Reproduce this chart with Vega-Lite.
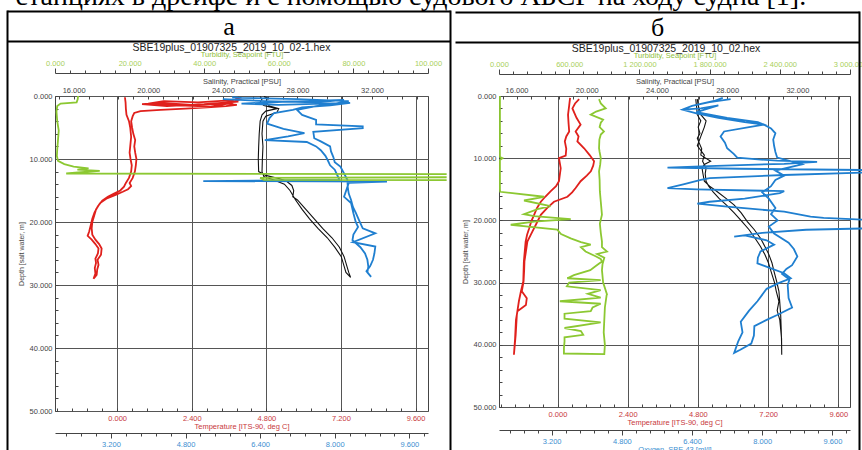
{
  "$schema": "https://vega.github.io/schema/vega-lite/v6.json",
  "autosize": {"type": "pad"},
  "padding": {"left": 6, "top": -18, "right": 0, "bottom": 0},
  "background": "white",
  "spacing": -46,
  "title": {"text": "станциях в дрейфе и с помощью судового АБСР на ходу судна [1].", "font": "Liberation Serif", "fontSize": 28, "fontWeight": "normal", "anchor": "start", "dx": 9, "offset": -22, "baseline": "alphabetic", "color": "#000"},
  "config": {
    "view": {"stroke": "#444", "strokeWidth": 1},
    "axis": {"labelFont": "Liberation Sans", "titleFont": "Liberation Sans", "labelFontSize": 7.5, "titleFontSize": 7.5, "titleFontWeight": "normal", "tickColor": "#444", "domainColor": "#444", "gridColor": "#555", "gridWidth": 1, "labelOverlap": false, "labelFlush": false}
  },
  "datasets": {
    "frame": [{"f": 0.5}],
    "a": [
      {"v":"T","c":1,"d":0.2,"x":0.25},{"v":"T","c":1,"d":1.0,"x":0.27},{"v":"T","c":1,"d":2.0,"x":0.28},{"v":"T","c":1,"d":3.0,"x":0.30},{"v":"T","c":1,"d":4.0,"x":0.38},{"v":"T","c":1,"d":5.0,"x":0.42},{"v":"T","c":1,"d":6.5,"x":0.45},{"v":"T","c":1,"d":8.0,"x":0.42},{"v":"T","c":1,"d":9.0,"x":0.40},{"v":"T","c":1,"d":10.0,"x":0.43},{"v":"T","c":1,"d":11.0,"x":0.47},{"v":"T","c":1,"d":12.0,"x":0.45},{"v":"T","c":1,"d":13.0,"x":0.38},{"v":"T","c":1,"d":13.8,"x":0.28},{"v":"T","c":1,"d":14.4,"x":0.22},{"v":"T","c":1,"d":15.0,"x":0.10},{"v":"T","c":1,"d":15.5,"x":-0.10},{"v":"T","c":1,"d":16.0,"x":-0.30},{"v":"T","c":1,"d":16.6,"x":-0.48},{"v":"T","c":1,"d":17.5,"x":-0.62},{"v":"T","c":1,"d":18.5,"x":-0.73},{"v":"T","c":1,"d":19.5,"x":-0.80},{"v":"T","c":1,"d":20.5,"x":-0.85},{"v":"T","c":1,"d":21.5,"x":-0.90},{"v":"T","c":1,"d":22.2,"x":-0.95},{"v":"T","c":1,"d":22.8,"x":-0.82},{"v":"T","c":1,"d":23.5,"x":-0.70},{"v":"T","c":1,"d":24.2,"x":-0.60},{"v":"T","c":1,"d":25.0,"x":-0.62},{"v":"T","c":1,"d":25.8,"x":-0.70},{"v":"T","c":1,"d":26.5,"x":-0.68},{"v":"T","c":1,"d":27.3,"x":-0.72},{"v":"T","c":1,"d":28.2,"x":-0.70},{"v":"T","c":1,"d":29.0,"x":-0.76},
      {"v":"T","c":1,"d":28.4,"x":-0.66},{"v":"T","c":1,"d":27.5,"x":-0.64},{"v":"T","c":1,"d":26.8,"x":-0.60},{"v":"T","c":1,"d":26.0,"x":-0.63},{"v":"T","c":1,"d":25.2,"x":-0.52},{"v":"T","c":1,"d":24.2,"x":-0.50},{"v":"T","c":1,"d":23.5,"x":-0.58},{"v":"T","c":1,"d":22.8,"x":-0.70},{"v":"T","c":1,"d":22.0,"x":-0.80},{"v":"T","c":1,"d":21.0,"x":-0.82},{"v":"T","c":1,"d":20.0,"x":-0.80},{"v":"T","c":1,"d":19.0,"x":-0.74},{"v":"T","c":1,"d":18.0,"x":-0.68},{"v":"T","c":1,"d":17.0,"x":-0.55},{"v":"T","c":1,"d":16.3,"x":-0.35},{"v":"T","c":1,"d":15.7,"x":-0.05},{"v":"T","c":1,"d":15.2,"x":0.18},{"v":"T","c":1,"d":14.8,"x":0.35},{"v":"T","c":1,"d":14.3,"x":0.45},{"v":"T","c":1,"d":13.8,"x":0.40},{"v":"T","c":1,"d":13.0,"x":0.50},{"v":"T","c":1,"d":12.0,"x":0.57},{"v":"T","c":1,"d":11.0,"x":0.60},{"v":"T","c":1,"d":10.0,"x":0.62},{"v":"T","c":1,"d":9.0,"x":0.58},{"v":"T","c":1,"d":8.0,"x":0.55},{"v":"T","c":1,"d":7.0,"x":0.58},{"v":"T","c":1,"d":6.0,"x":0.52},{"v":"T","c":1,"d":5.0,"x":0.48},{"v":"T","c":1,"d":4.0,"x":0.45},{"v":"T","c":1,"d":3.2,"x":0.50},{"v":"T","c":1,"d":2.7,"x":0.55},{"v":"T","c":1,"d":2.4,"x":0.75},{"v":"T","c":1,"d":2.2,"x":1.40},{"v":"T","c":1,"d":2.0,"x":2.20},{"v":"T","c":1,"d":1.8,"x":2.90},{"v":"T","c":1,"d":1.6,"x":3.50},{"v":"T","c":1,"d":1.4,"x":3.85},{"v":"T","c":1,"d":1.2,"x":3.50},{"v":"T","c":1,"d":1.4,"x":2.40},{"v":"T","c":1,"d":1.1,"x":1.40},{"v":"T","c":1,"d":1.3,"x":0.80},{"v":"T","c":1,"d":1.6,"x":1.60},{"v":"T","c":1,"d":1.3,"x":2.80},{"v":"T","c":1,"d":0.9,"x":3.90},{"v":"T","c":1,"d":0.7,"x":3.60},{"v":"T","c":1,"d":1.0,"x":2.60},{"v":"T","c":1,"d":0.8,"x":1.50},{"v":"T","c":1,"d":1.2,"x":1.00},{"v":"T","c":1,"d":1.5,"x":2.00},{"v":"T","c":1,"d":1.7,"x":3.00},{"v":"T","c":1,"d":1.1,"x":3.70},{"v":"T","c":1,"d":0.5,"x":3.95},{"v":"T","c":1,"d":0.3,"x":3.80},
      {"v":"S","c":1,"d":0.1,"x":26.0},{"v":"S","c":1,"d":0.5,"x":26.1},{"v":"S","c":1,"d":1.0,"x":26.0},{"v":"S","c":1,"d":1.5,"x":26.2},{"v":"S","c":1,"d":2.0,"x":26.9},{"v":"S","c":1,"d":2.4,"x":26.3},{"v":"S","c":1,"d":3.0,"x":26.1},{"v":"S","c":1,"d":4,"x":26.0},{"v":"S","c":1,"d":6,"x":25.95},{"v":"S","c":1,"d":8,"x":25.92},{"v":"S","c":1,"d":10,"x":25.9},{"v":"S","c":1,"d":12,"x":25.92},{"v":"S","c":1,"d":12.6,"x":26.3},{"v":"S","c":1,"d":13.1,"x":27.0},{"v":"S","c":1,"d":13.5,"x":27.4},{"v":"S","c":1,"d":14.2,"x":27.7},{"v":"S","c":1,"d":15.0,"x":27.8},{"v":"S","c":1,"d":16.0,"x":27.75},{"v":"S","c":1,"d":16.5,"x":28.0},{"v":"S","c":1,"d":18.0,"x":28.45},{"v":"S","c":1,"d":19.5,"x":28.9},{"v":"S","c":1,"d":21.0,"x":29.35},{"v":"S","c":1,"d":22.5,"x":29.85},{"v":"S","c":1,"d":24.0,"x":30.25},{"v":"S","c":1,"d":25.5,"x":30.5},{"v":"S","c":1,"d":27.0,"x":30.65},{"v":"S","c":1,"d":28.0,"x":30.75},{"v":"S","c":1,"d":28.8,"x":30.85},
      {"v":"S","c":1,"d":28.0,"x":30.6},{"v":"S","c":1,"d":27.0,"x":30.5},{"v":"S","c":1,"d":25.5,"x":30.35},{"v":"S","c":1,"d":24.0,"x":30.0},{"v":"S","c":1,"d":22.5,"x":29.6},{"v":"S","c":1,"d":21.0,"x":29.1},{"v":"S","c":1,"d":19.5,"x":28.65},{"v":"S","c":1,"d":18.0,"x":28.25},{"v":"S","c":1,"d":16.5,"x":27.9},{"v":"S","c":1,"d":15.0,"x":27.6},{"v":"S","c":1,"d":14.0,"x":27.3},{"v":"S","c":1,"d":13.3,"x":26.7},{"v":"S","c":1,"d":12.8,"x":26.2},{"v":"S","c":1,"d":12.0,"x":26.1},{"v":"S","c":1,"d":10,"x":26.12},{"v":"S","c":1,"d":8,"x":26.15},{"v":"S","c":1,"d":6,"x":26.1},{"v":"S","c":1,"d":4,"x":26.15},{"v":"S","c":1,"d":3.2,"x":26.3},{"v":"S","c":1,"d":2.6,"x":26.9},{"v":"S","c":1,"d":2.0,"x":27.0},{"v":"S","c":1,"d":1.6,"x":26.5},{"v":"S","c":1,"d":1.0,"x":26.3},{"v":"S","c":1,"d":0.3,"x":26.4},{"v":"S","c":1,"d":0.1,"x":26.2},
      {"v":"O","c":1,"d":0.5,"x":5.6},{"v":"O","c":1,"d":0.8,"x":6.5},{"v":"O","c":1,"d":1.0,"x":7.6},{"v":"O","c":1,"d":0.6,"x":8.2},{"v":"O","c":1,"d":0.9,"x":7.0},{"v":"O","c":1,"d":1.2,"x":6.0},{"v":"O","c":1,"d":1.4,"x":6.8},{"v":"O","c":1,"d":1.1,"x":8.33},{"v":"O","c":1,"d":1.5,"x":7.9},{"v":"O","c":1,"d":1.8,"x":7.3},{"v":"O","c":1,"d":2.2,"x":7.1},{"v":"O","c":1,"d":2.7,"x":6.7},{"v":"O","c":1,"d":3.5,"x":6.6},{"v":"O","c":1,"d":4.4,"x":6.55},{"v":"O","c":1,"d":5.2,"x":6.9},{"v":"O","c":1,"d":5.9,"x":7.35},{"v":"O","c":1,"d":6.4,"x":7.0},{"v":"O","c":1,"d":7.0,"x":6.5},{"v":"O","c":1,"d":7.3,"x":7.4},{"v":"O","c":1,"d":8.0,"x":7.6},{"v":"O","c":1,"d":8.6,"x":7.7},{"v":"O","c":1,"d":9.5,"x":7.8},{"v":"O","c":1,"d":10.2,"x":7.85},{"v":"O","c":1,"d":11.0,"x":7.9},{"v":"O","c":1,"d":11.7,"x":8.0},{"v":"O","c":1,"d":12.5,"x":8.05},{"v":"O","c":1,"d":13.3,"x":8.1},{"v":"O","c":1,"d":13.5,"x":5.18},{"v":"O","c":1,"d":13.6,"x":9.12},{"v":"O","c":1,"d":13.8,"x":8.3},{"v":"O","c":1,"d":14.9,"x":8.25},{"v":"O","c":1,"d":16.0,"x":8.2},{"v":"O","c":1,"d":17.0,"x":8.35},{"v":"O","c":1,"d":18.6,"x":8.4},{"v":"O","c":1,"d":20.0,"x":8.45},{"v":"O","c":1,"d":20.8,"x":8.5},{"v":"O","c":1,"d":22.0,"x":8.4},{"v":"O","c":1,"d":22.9,"x":8.38},{"v":"O","c":1,"d":24.0,"x":8.55},{"v":"O","c":1,"d":25.0,"x":8.65},{"v":"O","c":1,"d":26.0,"x":8.7},{"v":"O","c":1,"d":27.1,"x":8.72},{"v":"O","c":1,"d":28.0,"x":8.7},{"v":"O","c":1,"d":28.7,"x":8.78},
      {"v":"O","c":1,"d":27.8,"x":8.68},{"v":"O","c":1,"d":27.0,"x":8.76},{"v":"O","c":1,"d":26.0,"x":8.82},{"v":"O","c":1,"d":25.0,"x":8.85},{"v":"O","c":1,"d":23.9,"x":8.87},{"v":"O","c":1,"d":23.2,"x":8.39},{"v":"O","c":1,"d":21.8,"x":8.87},{"v":"O","c":1,"d":21.0,"x":8.6},{"v":"O","c":1,"d":19.7,"x":8.52},{"v":"O","c":1,"d":18.5,"x":8.45},{"v":"O","c":1,"d":17.6,"x":8.39},{"v":"O","c":1,"d":16.5,"x":8.35},{"v":"O","c":1,"d":15.5,"x":8.3},{"v":"O","c":1,"d":14.5,"x":8.28},{"v":"O","c":1,"d":13.3,"x":8.27},{"v":"O","c":1,"d":12.3,"x":8.2},{"v":"O","c":1,"d":11.2,"x":8.12},{"v":"O","c":1,"d":10.5,"x":8.0},{"v":"O","c":1,"d":9.7,"x":7.97},{"v":"O","c":1,"d":8.8,"x":7.92},{"v":"O","c":1,"d":8.0,"x":7.9},{"v":"O","c":1,"d":7.2,"x":7.7},{"v":"O","c":1,"d":6.7,"x":7.56},{"v":"O","c":1,"d":5.7,"x":7.54},{"v":"O","c":1,"d":5.1,"x":8.6},{"v":"O","c":1,"d":4.8,"x":8.6},{"v":"O","c":1,"d":4.5,"x":7.6},{"v":"O","c":1,"d":3.8,"x":7.6},{"v":"O","c":1,"d":3.0,"x":7.3},{"v":"O","c":1,"d":2.2,"x":7.19},{"v":"O","c":1,"d":1.6,"x":7.6},{"v":"O","c":1,"d":1.2,"x":8.0},{"v":"O","c":1,"d":0.8,"x":8.3},{"v":"O","c":1,"d":0.5,"x":7.2},{"v":"O","c":1,"d":0.3,"x":6.0},{"v":"O","c":1,"d":0.2,"x":5.8},
      {"v":"U","c":1,"d":0,"x":6.2},{"v":"U","c":1,"d":0.5,"x":6.1},{"v":"U","c":1,"d":1.0,"x":5.8},{"v":"U","c":1,"d":1.2,"x":1.5},{"v":"U","c":1,"d":1.6,"x":0.6},{"v":"U","c":1,"d":2.5,"x":0.4},{"v":"U","c":1,"d":4,"x":0.6},{"v":"U","c":1,"d":5.5,"x":1.0},{"v":"U","c":1,"d":7,"x":0.8},{"v":"U","c":1,"d":8.5,"x":0.6},{"v":"U","c":1,"d":9.5,"x":0.5},{"v":"U","c":1,"d":10.3,"x":0.8},{"v":"U","c":1,"d":10.8,"x":2.5},{"v":"U","c":1,"d":11.2,"x":5},{"v":"U","c":1,"d":11.5,"x":9},{"v":"U","c":1,"d":11.7,"x":6},{"v":"U","c":1,"d":11.9,"x":12},{"v":"U","c":1,"d":12.1,"x":7},{"v":"U","c":1,"d":12.3,"x":3},{"v":"U","c":1,"d":12.4,"x":105},
      {"v":"U","c":2,"d":12.9,"x":105},{"v":"U","c":2,"d":13.0,"x":55},{"v":"U","c":2,"d":13.3,"x":56},{"v":"U","c":2,"d":13.35,"x":105}
    ],
    "b": [
      {"v":"T","c":1,"d":0.3,"x":0.43},{"v":"T","c":1,"d":1.5,"x":0.40},{"v":"T","c":1,"d":3.0,"x":0.36},{"v":"T","c":1,"d":4.5,"x":0.38},{"v":"T","c":1,"d":5.7,"x":0.40},{"v":"T","c":1,"d":6.5,"x":0.30},{"v":"T","c":1,"d":7.3,"x":0.25},{"v":"T","c":1,"d":8.5,"x":0.30},{"v":"T","c":1,"d":9.6,"x":0.28},{"v":"T","c":1,"d":10.0,"x":0.05},{"v":"T","c":1,"d":11.6,"x":0.11},{"v":"T","c":1,"d":13.7,"x":0.05},{"v":"T","c":1,"d":14.5,"x":-0.05},{"v":"T","c":1,"d":15.3,"x":-0.23},{"v":"T","c":1,"d":16.2,"x":-0.42},{"v":"T","c":1,"d":17.0,"x":-0.57},{"v":"T","c":1,"d":18.0,"x":-0.70},{"v":"T","c":1,"d":19.1,"x":-0.80},{"v":"T","c":1,"d":20.2,"x":-0.90},{"v":"T","c":1,"d":21.3,"x":-0.97},{"v":"T","c":1,"d":22.3,"x":-1.04},{"v":"T","c":1,"d":23.4,"x":-1.09},{"v":"T","c":1,"d":25.0,"x":-1.12},{"v":"T","c":1,"d":26.6,"x":-1.15},{"v":"T","c":1,"d":28.2,"x":-1.16},{"v":"T","c":1,"d":29.8,"x":-1.17},{"v":"T","c":1,"d":31.4,"x":-1.25},{"v":"T","c":1,"d":33.0,"x":-1.32},{"v":"T","c":1,"d":35.2,"x":-1.39},{"v":"T","c":1,"d":36.8,"x":-1.41},{"v":"T","c":1,"d":38.4,"x":-1.43},{"v":"T","c":1,"d":40.0,"x":-1.46},{"v":"T","c":1,"d":41.6,"x":-1.49},
      {"v":"T","c":1,"d":39,"x":-1.45},{"v":"T","c":1,"d":36,"x":-1.42},{"v":"T","c":1,"d":34.6,"x":-1.37},{"v":"T","c":1,"d":33.6,"x":-1.08},{"v":"T","c":1,"d":32.5,"x":-1.05},{"v":"T","c":1,"d":31.4,"x":-1.22},{"v":"T","c":1,"d":29.8,"x":-1.16},{"v":"T","c":1,"d":28,"x":-1.14},{"v":"T","c":1,"d":26.6,"x":-1.13},{"v":"T","c":1,"d":25,"x":-1.08},{"v":"T","c":1,"d":23.4,"x":-1.03},{"v":"T","c":1,"d":21.8,"x":-0.86},{"v":"T","c":1,"d":20.5,"x":-0.72},{"v":"T","c":1,"d":19.1,"x":-0.57},{"v":"T","c":1,"d":18.0,"x":-0.35},{"v":"T","c":1,"d":17.0,"x":-0.12},{"v":"T","c":1,"d":16.2,"x":0.34},{"v":"T","c":1,"d":15.5,"x":0.50},{"v":"T","c":1,"d":14.8,"x":0.62},{"v":"T","c":1,"d":13.7,"x":0.79},{"v":"T","c":1,"d":12.8,"x":1.00},{"v":"T","c":1,"d":12.1,"x":1.14},{"v":"T","c":1,"d":11.2,"x":1.22},{"v":"T","c":1,"d":10.5,"x":1.25},{"v":"T","c":1,"d":9.5,"x":1.10},{"v":"T","c":1,"d":8.4,"x":0.91},{"v":"T","c":1,"d":7.3,"x":0.68},{"v":"T","c":1,"d":6.5,"x":0.72},{"v":"T","c":1,"d":5.7,"x":0.62},{"v":"T","c":1,"d":4.6,"x":0.79},{"v":"T","c":1,"d":3.5,"x":0.65},{"v":"T","c":1,"d":2.0,"x":0.51},{"v":"T","c":1,"d":1.2,"x":0.60},{"v":"T","c":1,"d":0.5,"x":0.74},
      {"v":"S","c":1,"d":0.5,"x":26.21},{"v":"S","c":1,"d":1.5,"x":26.25},{"v":"S","c":1,"d":3,"x":26.3},{"v":"S","c":1,"d":4,"x":26.5},{"v":"S","c":1,"d":5,"x":26.35},{"v":"S","c":1,"d":6,"x":26.45},{"v":"S","c":1,"d":6.8,"x":26.3},{"v":"S","c":1,"d":7.5,"x":26.4},{"v":"S","c":1,"d":8.5,"x":26.55},{"v":"S","c":1,"d":9.5,"x":26.5},{"v":"S","c":1,"d":10.5,"x":27.06},{"v":"S","c":1,"d":11.0,"x":26.7},{"v":"S","c":1,"d":11.6,"x":26.57},{"v":"S","c":1,"d":12.5,"x":26.62},{"v":"S","c":1,"d":13.7,"x":26.7},{"v":"S","c":1,"d":14.5,"x":27.0},{"v":"S","c":1,"d":15.4,"x":27.44},{"v":"S","c":1,"d":16.5,"x":27.95},{"v":"S","c":1,"d":17.5,"x":28.39},{"v":"S","c":1,"d":18.8,"x":28.8},{"v":"S","c":1,"d":20.2,"x":29.15},{"v":"S","c":1,"d":21.5,"x":29.55},{"v":"S","c":1,"d":22.9,"x":29.91},{"v":"S","c":1,"d":24.2,"x":30.15},{"v":"S","c":1,"d":25.5,"x":30.38},{"v":"S","c":1,"d":26.8,"x":30.55},{"v":"S","c":1,"d":28.2,"x":30.67},{"v":"S","c":1,"d":29.8,"x":30.82},{"v":"S","c":1,"d":31.4,"x":30.95},{"v":"S","c":1,"d":33.2,"x":31.0},{"v":"S","c":1,"d":35.2,"x":31.05},{"v":"S","c":1,"d":37.5,"x":31.08},{"v":"S","c":1,"d":39.5,"x":31.1},{"v":"S","c":1,"d":41.6,"x":31.11},
      {"v":"S","c":1,"d":39,"x":31.1},{"v":"S","c":1,"d":36,"x":31.0},{"v":"S","c":1,"d":34.5,"x":30.85},{"v":"S","c":1,"d":33,"x":30.95},{"v":"S","c":1,"d":31.4,"x":30.8},{"v":"S","c":1,"d":30,"x":30.7},{"v":"S","c":1,"d":28.2,"x":30.5},{"v":"S","c":1,"d":26.8,"x":30.35},{"v":"S","c":1,"d":25.5,"x":30.15},{"v":"S","c":1,"d":24.2,"x":29.9},{"v":"S","c":1,"d":22.9,"x":29.6},{"v":"S","c":1,"d":21.5,"x":29.25},{"v":"S","c":1,"d":20.2,"x":28.85},{"v":"S","c":1,"d":18.8,"x":28.4},{"v":"S","c":1,"d":17.5,"x":27.95},{"v":"S","c":1,"d":16.5,"x":27.55},{"v":"S","c":1,"d":15.4,"x":27.2},{"v":"S","c":1,"d":14.5,"x":26.95},{"v":"S","c":1,"d":13.7,"x":26.8},{"v":"S","c":1,"d":12.5,"x":26.75},{"v":"S","c":1,"d":11.6,"x":26.8},{"v":"S","c":1,"d":10.5,"x":26.6},{"v":"S","c":1,"d":9.5,"x":26.7},{"v":"S","c":1,"d":8,"x":26.3},{"v":"S","c":1,"d":6.5,"x":26.5},{"v":"S","c":1,"d":5,"x":26.7},{"v":"S","c":1,"d":4,"x":26.8},{"v":"S","c":1,"d":3,"x":26.5},{"v":"S","c":1,"d":1.5,"x":26.35},{"v":"S","c":1,"d":0.5,"x":26.3},
      {"v":"O","c":1,"d":0.5,"x":7.28},{"v":"O","c":1,"d":1.0,"x":6.8},{"v":"O","c":1,"d":1.6,"x":6.4},{"v":"O","c":1,"d":2.2,"x":6.18},{"v":"O","c":1,"d":2.0,"x":6.6},{"v":"O","c":1,"d":1.5,"x":7.0},{"v":"O","c":1,"d":2.6,"x":6.5},{"v":"O","c":1,"d":3.5,"x":7.2},{"v":"O","c":1,"d":4.2,"x":7.9},{"v":"O","c":1,"d":4.6,"x":8.04},{"v":"O","c":1,"d":5.0,"x":7.7},{"v":"O","c":1,"d":5.7,"x":7.13},{"v":"O","c":1,"d":6.5,"x":7.05},{"v":"O","c":1,"d":7.5,"x":7.15},{"v":"O","c":1,"d":8.4,"x":7.2},{"v":"O","c":1,"d":9.3,"x":7.35},{"v":"O","c":1,"d":9.9,"x":7.43},{"v":"O","c":1,"d":10.2,"x":7.9},{"v":"O","c":1,"d":10.4,"x":8.34},{"v":"O","c":1,"d":10.6,"x":9.25},{"v":"O","c":1,"d":10.9,"x":8.5},{"v":"O","c":1,"d":11.3,"x":6.6},{"v":"O","c":1,"d":11.5,"x":5.84},{"v":"O","c":1,"d":11.7,"x":7.5},{"v":"O","c":1,"d":11.9,"x":10.3},{"v":"O","c":1,"d":12.3,"x":10.3},{"v":"O","c":1,"d":12.7,"x":8.5},{"v":"O","c":1,"d":13.2,"x":6.8},{"v":"O","c":1,"d":13.5,"x":6.6},{"v":"O","c":1,"d":14.2,"x":6.2},{"v":"O","c":1,"d":14.8,"x":5.84},{"v":"O","c":1,"d":15.0,"x":6.5},{"v":"O","c":1,"d":15.3,"x":8.5},{"v":"O","c":1,"d":15.6,"x":8.4},{"v":"O","c":1,"d":16.5,"x":7.6},{"v":"O","c":1,"d":17.0,"x":6.8},{"v":"O","c":1,"d":17.3,"x":6.52},{"v":"O","c":1,"d":17.8,"x":7.2},{"v":"O","c":1,"d":18.6,"x":8.5},{"v":"O","c":1,"d":19.4,"x":9.1},{"v":"O","c":1,"d":19.6,"x":9.4},{"v":"O","c":1,"d":19.9,"x":10.3},{"v":"O","c":1,"d":21.3,"x":10.3},{"v":"O","c":1,"d":21.5,"x":9.0},{"v":"O","c":1,"d":22.0,"x":8.0},{"v":"O","c":1,"d":22.6,"x":7.36},{"v":"O","c":1,"d":22.4,"x":7.6},{"v":"O","c":1,"d":23.2,"x":8.1},{"v":"O","c":1,"d":23.9,"x":8.27},{"v":"O","c":1,"d":24.5,"x":8.1},{"v":"O","c":1,"d":25.0,"x":7.96},{"v":"O","c":1,"d":26.0,"x":7.9},{"v":"O","c":1,"d":26.9,"x":7.89},{"v":"O","c":1,"d":27.7,"x":8.2},{"v":"O","c":1,"d":28.5,"x":8.5},{"v":"O","c":1,"d":29.3,"x":8.65},{"v":"O","c":1,"d":30.0,"x":8.4},{"v":"O","c":1,"d":31.0,"x":8.1},{"v":"O","c":1,"d":33.0,"x":7.89},{"v":"O","c":1,"d":34.5,"x":7.7},{"v":"O","c":1,"d":36.3,"x":7.51},{"v":"O","c":1,"d":38.0,"x":7.55},{"v":"O","c":1,"d":39.5,"x":7.45},{"v":"O","c":1,"d":41.3,"x":7.36},
      {"v":"O","c":1,"d":40.8,"x":7.5},{"v":"O","c":1,"d":39.8,"x":7.75},{"v":"O","c":1,"d":38.5,"x":7.81},{"v":"O","c":1,"d":37,"x":7.82},{"v":"O","c":1,"d":36.0,"x":8.1},{"v":"O","c":1,"d":35.2,"x":8.34},{"v":"O","c":1,"d":34.0,"x":8.68},{"v":"O","c":1,"d":32.5,"x":8.6},{"v":"O","c":1,"d":30.4,"x":8.58},{"v":"O","c":1,"d":29.5,"x":8.62},{"v":"O","c":1,"d":28.6,"x":8.45},{"v":"O","c":1,"d":27.8,"x":8.55},{"v":"O","c":1,"d":27.2,"x":8.68},{"v":"O","c":1,"d":25.8,"x":8.8},{"v":"O","c":1,"d":24.6,"x":8.72},{"v":"O","c":1,"d":23.6,"x":8.6},{"v":"O","c":1,"d":22.1,"x":8.27},{"v":"O","c":1,"d":21.0,"x":8.15},{"v":"O","c":1,"d":20.0,"x":8.35},{"v":"O","c":1,"d":19.0,"x":8.2},{"v":"O","c":1,"d":18.0,"x":8.3},{"v":"O","c":1,"d":16.5,"x":8.15},{"v":"O","c":1,"d":15.5,"x":8.0},{"v":"O","c":1,"d":14.5,"x":8.2},{"v":"O","c":1,"d":13.5,"x":8.3},{"v":"O","c":1,"d":12.8,"x":8.5},{"v":"O","c":1,"d":12.0,"x":8.3},{"v":"O","c":1,"d":11.0,"x":8.9},{"v":"O","c":1,"d":10.4,"x":8.6},{"v":"O","c":1,"d":9.9,"x":8.34},{"v":"O","c":1,"d":9.0,"x":8.3},{"v":"O","c":1,"d":8.0,"x":8.27},{"v":"O","c":1,"d":7.0,"x":8.25},{"v":"O","c":1,"d":6.0,"x":8.3},{"v":"O","c":1,"d":5.2,"x":8.2},{"v":"O","c":1,"d":4.6,"x":8.04},{"v":"O","c":1,"d":4.2,"x":7.6},{"v":"O","c":1,"d":3.5,"x":7.0},{"v":"O","c":1,"d":2.8,"x":6.5},{"v":"O","c":1,"d":2.2,"x":6.18},{"v":"O","c":1,"d":1.6,"x":6.4},{"v":"O","c":1,"d":0.8,"x":6.9},{"v":"O","c":1,"d":0.3,"x":7.1},
      {"v":"U","c":1,"d":0,"x":8},{"v":"U","c":1,"d":2,"x":8},{"v":"U","c":1,"d":5,"x":8},{"v":"U","c":1,"d":8,"x":8},{"v":"U","c":1,"d":9.8,"x":8},{"v":"U","c":1,"d":10.0,"x":30},{"v":"U","c":1,"d":10.3,"x":8},{"v":"U","c":1,"d":12,"x":8},{"v":"U","c":1,"d":15.0,"x":8},{"v":"U","c":1,"d":15.4,"x":10},{"v":"U","c":1,"d":16.2,"x":385},{"v":"U","c":1,"d":16.8,"x":214},{"v":"U","c":1,"d":17.7,"x":440},{"v":"U","c":1,"d":18.2,"x":330},{"v":"U","c":1,"d":19.0,"x":214},{"v":"U","c":1,"d":19.3,"x":300},{"v":"U","c":1,"d":19.8,"x":613},{"v":"U","c":1,"d":20.2,"x":300},{"v":"U","c":1,"d":20.7,"x":100},{"v":"U","c":1,"d":21.0,"x":250},{"v":"U","c":1,"d":21.5,"x":498},{"v":"U","c":1,"d":22.2,"x":530},{"v":"U","c":1,"d":22.9,"x":613},{"v":"U","c":1,"d":23.5,"x":700},{"v":"U","c":1,"d":23.9,"x":784},{"v":"U","c":1,"d":24.3,"x":700},{"v":"U","c":1,"d":25.0,"x":740},{"v":"U","c":1,"d":25.8,"x":830},{"v":"U","c":1,"d":26.2,"x":869},{"v":"U","c":1,"d":26.6,"x":880},{"v":"U","c":1,"d":27.3,"x":830},{"v":"U","c":1,"d":28.0,"x":780},{"v":"U","c":1,"d":28.8,"x":640},{"v":"U","c":1,"d":29.3,"x":584},{"v":"U","c":1,"d":29.6,"x":869},{"v":"U","c":1,"d":30.0,"x":600},{"v":"U","c":1,"d":30.6,"x":580},{"v":"U","c":1,"d":31.2,"x":869},{"v":"U","c":1,"d":31.8,"x":760},{"v":"U","c":1,"d":32.4,"x":869},{"v":"U","c":1,"d":33.0,"x":520},{"v":"U","c":1,"d":33.4,"x":869},{"v":"U","c":1,"d":34.0,"x":800},{"v":"U","c":1,"d":34.6,"x":784},{"v":"U","c":1,"d":35.0,"x":560},{"v":"U","c":1,"d":35.8,"x":560},{"v":"U","c":1,"d":36.4,"x":869},{"v":"U","c":1,"d":37.3,"x":560},{"v":"U","c":1,"d":37.8,"x":700},{"v":"U","c":1,"d":38.4,"x":720},{"v":"U","c":1,"d":38.8,"x":560},{"v":"U","c":1,"d":39.5,"x":560},{"v":"U","c":1,"d":40.5,"x":555},{"v":"U","c":1,"d":41.4,"x":555},{"v":"U","c":1,"d":41.5,"x":900},
      {"v":"U","c":1,"d":40,"x":905},{"v":"U","c":1,"d":38,"x":895},{"v":"U","c":1,"d":36,"x":900},{"v":"U","c":1,"d":34,"x":905},{"v":"U","c":1,"d":32,"x":920},{"v":"U","c":1,"d":31.9,"x":923},{"v":"U","c":1,"d":30,"x":890},{"v":"U","c":1,"d":28,"x":880},{"v":"U","c":1,"d":27,"x":885},{"v":"U","c":1,"d":26,"x":900},{"v":"U","c":1,"d":25.4,"x":838},{"v":"U","c":1,"d":25.0,"x":923},{"v":"U","c":1,"d":24.3,"x":880},{"v":"U","c":1,"d":23.4,"x":880},{"v":"U","c":1,"d":22,"x":870},{"v":"U","c":1,"d":20.5,"x":862},{"v":"U","c":1,"d":19.1,"x":880},{"v":"U","c":1,"d":17,"x":870},{"v":"U","c":1,"d":15.3,"x":862},{"v":"U","c":1,"d":13.5,"x":860},{"v":"U","c":1,"d":12.1,"x":855},{"v":"U","c":1,"d":11,"x":865},{"v":"U","c":1,"d":10,"x":870},{"v":"U","c":1,"d":9,"x":860},{"v":"U","c":1,"d":8.4,"x":855},{"v":"U","c":1,"d":7,"x":858},{"v":"U","c":1,"d":6.2,"x":870},{"v":"U","c":1,"d":5.7,"x":897},{"v":"U","c":1,"d":5.0,"x":860},{"v":"U","c":1,"d":4.3,"x":870},{"v":"U","c":1,"d":3.8,"x":890},{"v":"U","c":1,"d":3.0,"x":784},{"v":"U","c":1,"d":2.5,"x":830},{"v":"U","c":1,"d":2.0,"x":912},{"v":"U","c":1,"d":1.2,"x":870},{"v":"U","c":1,"d":0.5,"x":855}
    ]
  },
  "hconcat": [
    {
      "width": 373,
      "height": 315,
      "resolve": {"scale": {"x": "independent", "y": "independent"}},
      "layer": [
        {
          "data": {"name": "a"},
          "transform": [{"filter": "datum.v == 'T'"}],
          "mark": {"type": "line", "color": "#e0201c", "strokeWidth": 1.8, "clip": false},
          "encoding": {
            "x": {"field": "x", "type": "quantitative", "scale": {"domain": [-2, 10], "nice": false, "zero": false},
              "axis": {"orient": "bottom", "title": "Temperature [ITS-90, deg C]", "values": [-1.92,-1.44,-0.96,-0.48,0,0.48,0.96,1.44,1.92,2.4,2.88,3.36,3.84,4.32,4.8,5.28,5.76,6.24,6.72,7.2,7.68,8.16,8.64,9.12,9.6],
                "labelExpr": "abs(datum.value/2.4 - round(datum.value/2.4)) < 0.001 ? format(datum.value, '.3f') : ''",
                "labelColor": "#c8383c", "titleColor": "#c8383c", "tickSize": -3, "labelPadding": 6, "titlePadding": 1, "domain": false,
                "grid": true, "gridOpacity": {"condition": {"test": "abs(datum.value/2.4 - round(datum.value/2.4)) < 0.001", "value": 1}, "value": 0}}},
            "y": {"field": "d", "type": "quantitative", "scale": {"domain": [0, 50], "reverse": true, "nice": false, "zero": false},
              "axis": {"orient": "left", "title": "Depth [salt water, m]", "values": [0,2,4,6,8,10,12,14,16,18,20,22,24,26,28,30,32,34,36,38,40,42,44,46,48,50],
                "labelExpr": "datum.value % 10 == 0 ? format(datum.value, '.3f') : ''", "labelColor": "#444", "titleColor": "#444", "titleFontSize": 7,
                "tickSize": -3, "labelPadding": 6, "titlePadding": 5, "domain": false,
                "grid": true, "gridOpacity": {"condition": {"test": "datum.value % 10 == 0", "value": 1}, "value": 0}}},
            "detail": {"field": "c", "type": "nominal"},
            "order": {"value": null}
          }
        },
        {
          "data": {"name": "a"},
          "transform": [{"filter": "datum.v == 'S'"}],
          "mark": {"type": "line", "color": "#111", "strokeWidth": 1.1, "clip": false},
          "encoding": {
            "x": {"field": "x", "type": "quantitative", "scale": {"domain": [15, 35], "nice": false, "zero": false},
              "axis": {"orient": "top", "title": "Salinity, Practical [PSU]", "values": [15.2,16,16.8,17.6,18.4,19.2,20,20.8,21.6,22.4,23.2,24,24.8,25.6,26.4,27.2,28,28.8,29.6,30.4,31.2,32,32.8,33.6,34.4],
                "labelExpr": "datum.value % 4 == 0 ? format(datum.value, '.3f') : ''", "labelColor": "#444", "titleColor": "#444",
                "tickSize": -3, "labelPadding": 5, "titlePadding": 1, "domain": false, "grid": false}},
            "y": {"field": "d", "type": "quantitative", "scale": {"domain": [0, 50], "reverse": true, "nice": false, "zero": false}, "axis": null},
            "detail": {"field": "c", "type": "nominal"},
            "order": {"value": null}
          }
        },
        {
          "data": {"name": "a"},
          "transform": [{"filter": "datum.v == 'O'"}],
          "mark": {"type": "line", "color": "#1f7fd0", "strokeWidth": 1.8, "clip": false},
          "encoding": {
            "x": {"field": "x", "type": "quantitative", "scale": {"domain": [2, 10], "nice": false, "zero": false},
              "axis": {"orient": "bottom", "offset": 22, "title": "Oxygen, SBE 43 [ml/l]", "values": [2.24,2.56,2.88,3.2,3.52,3.84,4.16,4.48,4.8,5.12,5.44,5.76,6.08,6.4,6.72,7.04,7.36,7.68,8,8.32,8.64,8.96,9.28,9.6,9.92],
                "labelExpr": "abs(datum.value/1.6 - round(datum.value/1.6)) < 0.001 ? format(datum.value, '.3f') : ''",
                "labelColor": "#3d8fd1", "titleColor": "#3d8fd1", "tickSize": {"condition": {"test": "abs(datum.value/1.6 - round(datum.value/1.6)) < 0.001", "value": 5}, "value": 3}, "labelPadding": 2, "titlePadding": 1, "domain": true, "grid": false}},
            "y": {"field": "d", "type": "quantitative", "scale": {"domain": [0, 50], "reverse": true, "nice": false, "zero": false}, "axis": null},
            "detail": {"field": "c", "type": "nominal"},
            "order": {"value": null}
          }
        },
        {
          "data": {"name": "a"},
          "transform": [{"filter": "datum.v == 'U'"}],
          "mark": {"type": "line", "color": "#8cc832", "strokeWidth": 1.8, "clip": false},
          "encoding": {
            "x": {"field": "x", "type": "quantitative", "scale": {"domain": [0, 100], "nice": false, "zero": false},
              "axis": {"orient": "top", "offset": 23, "title": "Turbidity, Seapoint [FTU]", "values": [0,4,8,12,16,20,24,28,32,36,40,44,48,52,56,60,64,68,72,76,80,84,88,92,96,100],
                "labelExpr": "datum.value % 20 == 0 ? format(datum.value, '.3f') : ''",
                "labelColor": "#a9cf5a", "titleColor": "#8fc03c", "tickSize": {"condition": {"test": "datum.value % 20 == 0", "value": 5}, "value": 3}, "labelPadding": 1, "titlePadding": 1, "domain": true, "grid": false}},
            "y": {"field": "d", "type": "quantitative", "scale": {"domain": [0, 50], "reverse": true, "nice": false, "zero": false}, "axis": null},
            "detail": {"field": "c", "type": "nominal"},
            "order": {"value": null}
          }
        },
        {
          "data": {"name": "frame"},
          "mark": {"type": "point", "opacity": 0, "size": 0},
          "encoding": {
            "x": {"field": "f", "type": "quantitative", "scale": {"domain": [0, 1], "range": [-48, 395]},
              "axis": {"orient": "top", "offset": 85, "domain": true, "domainColor": "#000", "domainWidth": 2, "ticks": false, "labels": false, "grid": false, "title": null, "minExtent": 0}},
            "y": {"field": "f", "type": "quantitative", "scale": {"domain": [0, 1], "range": [-86, 520]},
              "axis": {"orient": "left", "offset": 48, "domain": true, "domainColor": "#000", "domainWidth": 2, "ticks": false, "labels": false, "grid": false, "title": null, "minExtent": 0}}
          }
        },
        {
          "data": {"name": "frame"},
          "mark": {"type": "point", "opacity": 0, "size": 0},
          "encoding": {
            "x": {"field": "f", "type": "quantitative", "scale": {"domain": [0, 1], "range": [-48, 395]},
              "axis": {"orient": "top", "offset": 55, "domain": true, "domainColor": "#000", "domainWidth": 2, "ticks": false, "labels": false, "grid": false, "title": "а", "titleFont": "Liberation Serif", "titleFontSize": 26, "titleFontWeight": "normal", "titleColor": "#000", "titleBaseline": "alphabetic", "titlePadding": 7, "minExtent": 0}},
            "y": {"field": "f", "type": "quantitative", "scale": {"domain": [0, 1], "range": [-86, 520]},
              "axis": {"orient": "right", "offset": 22, "domain": true, "domainColor": "#000", "domainWidth": 2, "ticks": false, "labels": false, "grid": false, "title": null, "minExtent": 0}}
          }
        },
        {
          "data": {"name": "frame"},
          "mark": {"type": "point", "opacity": 0, "size": 0},
          "encoding": {
            "x": {"field": "f", "type": "quantitative", "scale": {"domain": [0, 1], "range": [-43, 395]},
              "axis": {"orient": "top", "offset": 46, "domain": false, "ticks": false, "labels": false, "grid": false, "title": "SBE19plus_01907325_2019_10_02-1.hex", "titleFont": "Liberation Sans", "titleFontSize": 10.5, "titleFontWeight": "normal", "titleColor": "#222", "titleBaseline": "alphabetic", "titlePadding": 0, "minExtent": 0}},
            "y": {"field": "f", "type": "quantitative", "scale": {"domain": [0, 1]}, "axis": null}
          }
        }
      ]
    },
    {
      "width": 351,
      "height": 311,
      "resolve": {"scale": {"x": "independent", "y": "independent"}},
      "layer": [
        {
          "data": {"name": "b"},
          "transform": [{"filter": "datum.v == 'T'"}],
          "mark": {"type": "line", "color": "#e0201c", "strokeWidth": 1.8, "clip": false},
          "encoding": {
            "x": {"field": "x", "type": "quantitative", "scale": {"domain": [-2, 10], "nice": false, "zero": false},
              "axis": {"orient": "bottom", "title": "Temperature [ITS-90, deg C]", "values": [-1.92,-1.44,-0.96,-0.48,0,0.48,0.96,1.44,1.92,2.4,2.88,3.36,3.84,4.32,4.8,5.28,5.76,6.24,6.72,7.2,7.68,8.16,8.64,9.12,9.6],
                "labelExpr": "abs(datum.value/2.4 - round(datum.value/2.4)) < 0.001 ? format(datum.value, '.3f') : ''",
                "labelColor": "#c8383c", "titleColor": "#c8383c", "tickSize": -3, "labelPadding": 6, "titlePadding": 1, "domain": false,
                "grid": true, "gridOpacity": {"condition": {"test": "abs(datum.value/2.4 - round(datum.value/2.4)) < 0.001", "value": 1}, "value": 0}}},
            "y": {"field": "d", "type": "quantitative", "scale": {"domain": [0, 50], "reverse": true, "nice": false, "zero": false},
              "axis": {"orient": "left", "title": "Depth [salt water, m]", "values": [0,2,4,6,8,10,12,14,16,18,20,22,24,26,28,30,32,34,36,38,40,42,44,46,48,50],
                "labelExpr": "datum.value % 10 == 0 ? format(datum.value, '.3f') : ''", "labelColor": "#444", "titleColor": "#444", "titleFontSize": 7,
                "tickSize": -3, "labelPadding": 6, "titlePadding": 5, "domain": false,
                "grid": true, "gridOpacity": {"condition": {"test": "datum.value % 10 == 0", "value": 1}, "value": 0}}},
            "detail": {"field": "c", "type": "nominal"},
            "order": {"value": null}
          }
        },
        {
          "data": {"name": "b"},
          "transform": [{"filter": "datum.v == 'S'"}],
          "mark": {"type": "line", "color": "#111", "strokeWidth": 1.1, "clip": false},
          "encoding": {
            "x": {"field": "x", "type": "quantitative", "scale": {"domain": [15, 35], "nice": false, "zero": false},
              "axis": {"orient": "top", "title": "Salinity, Practical [PSU]", "values": [15.2,16,16.8,17.6,18.4,19.2,20,20.8,21.6,22.4,23.2,24,24.8,25.6,26.4,27.2,28,28.8,29.6,30.4,31.2,32,32.8,33.6,34.4],
                "labelExpr": "datum.value % 4 == 0 ? format(datum.value, '.3f') : ''", "labelColor": "#444", "titleColor": "#444",
                "tickSize": -3, "labelPadding": 5, "titlePadding": 1, "domain": false, "grid": false}},
            "y": {"field": "d", "type": "quantitative", "scale": {"domain": [0, 50], "reverse": true, "nice": false, "zero": false}, "axis": null},
            "detail": {"field": "c", "type": "nominal"},
            "order": {"value": null}
          }
        },
        {
          "data": {"name": "b"},
          "transform": [{"filter": "datum.v == 'O'"}],
          "mark": {"type": "line", "color": "#1f7fd0", "strokeWidth": 1.8, "clip": false},
          "encoding": {
            "x": {"field": "x", "type": "quantitative", "scale": {"domain": [2, 10], "nice": false, "zero": false},
              "axis": {"orient": "bottom", "offset": 23, "title": "Oxygen, SBE 43 [ml/l]", "values": [2.24,2.56,2.88,3.2,3.52,3.84,4.16,4.48,4.8,5.12,5.44,5.76,6.08,6.4,6.72,7.04,7.36,7.68,8,8.32,8.64,8.96,9.28,9.6,9.92],
                "labelExpr": "abs(datum.value/1.6 - round(datum.value/1.6)) < 0.001 ? format(datum.value, '.3f') : ''",
                "labelColor": "#3d8fd1", "titleColor": "#3d8fd1", "tickSize": {"condition": {"test": "abs(datum.value/1.6 - round(datum.value/1.6)) < 0.001", "value": 5}, "value": 3}, "labelPadding": 2, "titlePadding": 1, "domain": true, "grid": false}},
            "y": {"field": "d", "type": "quantitative", "scale": {"domain": [0, 50], "reverse": true, "nice": false, "zero": false}, "axis": null},
            "detail": {"field": "c", "type": "nominal"},
            "order": {"value": null}
          }
        },
        {
          "data": {"name": "b"},
          "transform": [{"filter": "datum.v == 'U'"}],
          "mark": {"type": "line", "color": "#8cc832", "strokeWidth": 1.8, "clip": false},
          "encoding": {
            "x": {"field": "x", "type": "quantitative", "scale": {"domain": [0, 3000], "nice": false, "zero": false},
              "axis": {"orient": "top", "offset": 22, "title": "Turbidity, Seapoint [FTU]", "values": [0,120,240,360,480,600,720,840,960,1080,1200,1320,1440,1560,1680,1800,1920,2040,2160,2280,2400,2520,2640,2760,2880,3000],
                "labelExpr": "datum.value % 600 == 0 ? replace(format(datum.value, ',.3f'), ',', ' ') : ''",
                "labelColor": "#a9cf5a", "titleColor": "#8fc03c", "tickSize": {"condition": {"test": "datum.value % 600 == 0", "value": 5}, "value": 3}, "labelPadding": 1, "titlePadding": 1, "domain": true, "grid": false}},
            "y": {"field": "d", "type": "quantitative", "scale": {"domain": [0, 50], "reverse": true, "nice": false, "zero": false}, "axis": null},
            "detail": {"field": "c", "type": "nominal"},
            "order": {"value": null}
          }
        },
        {
          "data": {"name": "frame"},
          "mark": {"type": "point", "opacity": 0, "size": 0},
          "encoding": {
            "x": {"field": "f", "type": "quantitative", "scale": {"domain": [0, 1], "range": [-44, 360]},
              "axis": {"orient": "top", "offset": 84, "domain": true, "domainColor": "#000", "domainWidth": 2, "ticks": false, "labels": false, "grid": false, "title": null, "minExtent": 0}},
            "y": {"field": "f", "type": "quantitative", "scale": {"domain": [0, 1], "range": [-85, 520]},
              "axis": {"orient": "right", "offset": 9, "domain": true, "domainColor": "#000", "domainWidth": 2, "ticks": false, "labels": false, "grid": false, "title": null, "minExtent": 0}}
          }
        },
        {
          "data": {"name": "frame"},
          "mark": {"type": "point", "opacity": 0, "size": 0},
          "encoding": {
            "x": {"field": "f", "type": "quantitative", "scale": {"domain": [0, 1], "range": [-44, 360]},
              "axis": {"orient": "top", "offset": 54, "domain": true, "domainColor": "#000", "domainWidth": 2, "ticks": false, "labels": false, "grid": false, "title": "б", "titleFont": "Liberation Serif", "titleFontSize": 26, "titleFontWeight": "normal", "titleColor": "#000", "titleBaseline": "alphabetic", "titlePadding": 7, "minExtent": 0}},
            "y": {"field": "f", "type": "quantitative", "scale": {"domain": [0, 1]}, "axis": null}
          }
        },
        {
          "data": {"name": "frame"},
          "mark": {"type": "point", "opacity": 0, "size": 0},
          "encoding": {
            "x": {"field": "f", "type": "quantitative", "scale": {"domain": [0, 1], "range": [-27, 360]},
              "axis": {"orient": "top", "offset": 45, "domain": false, "ticks": false, "labels": false, "grid": false, "title": "SBE19plus_01907325_2019_10_02.hex", "titleFont": "Liberation Sans", "titleFontSize": 10.5, "titleFontWeight": "normal", "titleColor": "#222", "titleBaseline": "alphabetic", "titlePadding": 0, "minExtent": 0}},
            "y": {"field": "f", "type": "quantitative", "scale": {"domain": [0, 1]}, "axis": null}
          }
        }
      ]
    }
  ]
}
